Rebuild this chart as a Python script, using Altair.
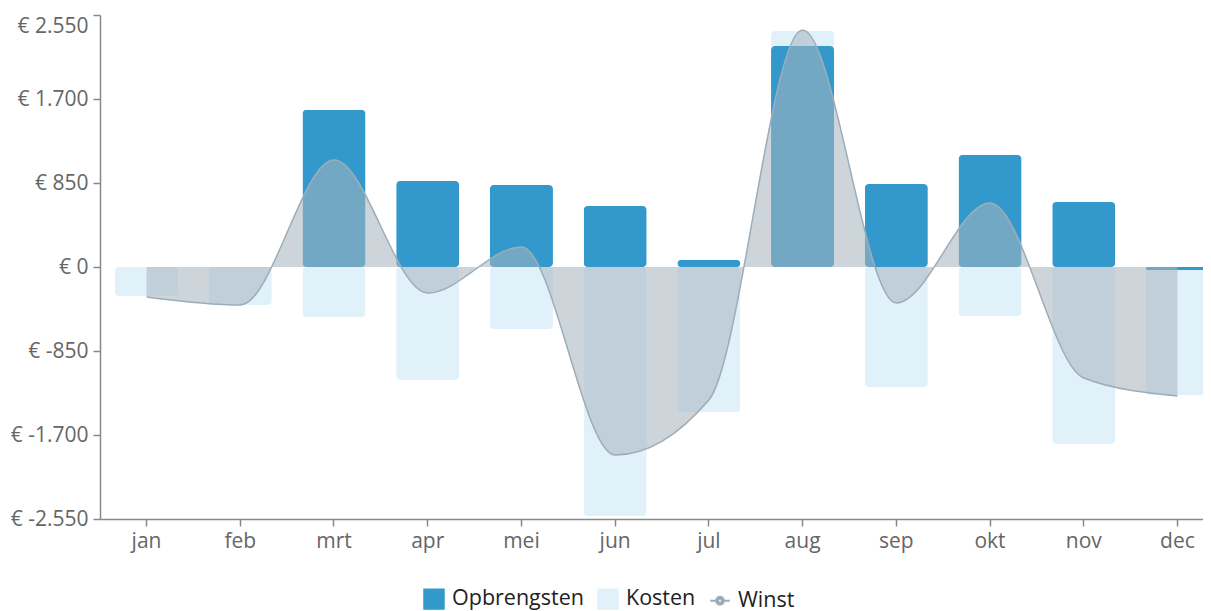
import altair as alt
import pandas as pd

months = ["jan", "feb", "mrt", "apr", "mei", "jun", "jul", "aug", "sep", "okt", "nov", "dec"]
opbrengsten = [0, 0, 1590, 870, 830, 617, 71, 2236, 840, 1133, 658, -30]
kosten = [-293, -385, -506, -1143, -627, -2520, -1467, 2388, -1214, -496, -1791, -1295]
winst = [-303, -385, 1083, -263, 202, -1903, -1346, 2398, -364, 648, -1123, -1305]
series_names = ["Opbrengsten", "Kosten", "Winst"]
series_colors = ["#3399cc", "#e1f1fa", "#9cadb9"]
y_ticks = [-2550, -1700, -850, 0, 850, 1700, 2550]

rows = []
for name, vals in zip(series_names, [opbrengsten, kosten, winst]):
    for m, v in zip(months, vals):
        rows.append({"maand": m, "reeks": name, "waarde": v})
df = pd.DataFrame(rows)

winst_path = (
    "M-1,0H-0.4M0.4,0H1"
    "M0.4,0A0.4,0.4,0,1,1,-0.4,0A0.4,0.4,0,1,1,0.4,0Z"
    "M0.2,0A0.2,0.2,0,1,0,-0.2,0A0.2,0.2,0,1,0,0.2,0Z"
)

color = alt.Color(
    "reeks:N",
    scale=alt.Scale(domain=series_names, range=series_colors),
    legend=alt.Legend(
        title=None,
        orient="none",
        legendX=323,
        legendY=573,
        direction="horizontal",
        labelFontSize=21.5,
        labelColor="#222222",
        labelFont="Open Sans",
        labelOffset=7,
        symbolSize=380,
        symbolStrokeWidth=2,
        columnPadding=10,
        symbolType=alt.ExprRef(
            "datum.value === 'Winst' ? '" + winst_path + "' : 'square'"
        ),
        symbolFillColor=alt.ExprRef(
            "datum.value === 'Winst' ? '#ffffff' : (datum.value === 'Kosten' ? '#e1f1fa' : '#3399cc')"
        ),
        symbolStrokeColor=alt.ExprRef(
            "datum.value === 'Winst' ? '#9cadb9' : 'transparent'"
        ),
    ),
)

x = alt.X(
    "maand:N",
    sort=months,
    scale=alt.Scale(range=[0, 1124], paddingInner=0.327, paddingOuter=0.16),
    axis=alt.Axis(title=None, labelAngle=0, labelPadding=4),
)
y = alt.Y(
    "waarde:Q",
    scale=alt.Scale(domain=[-2550, 2550], nice=False, zero=False),
    axis=alt.Axis(
        title=None,
        values=y_ticks,
        labelPadding=5,
        labelBaseline=alt.ExprRef("datum.value === 2550 ? 'top' : 'middle'"),
        labelExpr="'€ ' + (datum.value < 0 ? '-' : '') + replace(format(abs(datum.value), ',.0f'), ',', '.')",
    ),
)

base = alt.Chart(df)

kosten_bar = base.transform_filter("datum.reeks === 'Kosten'").mark_bar(
    cornerRadius=4
).encode(x=x, y=y, color=color)

opb_bar = base.transform_filter("datum.reeks === 'Opbrengsten'").mark_bar(
    cornerRadius=4
).encode(x=x, y=y, color=color)

area = base.transform_filter("datum.reeks === 'Winst'").mark_area(
    interpolate="monotone", color="#a5b4bf", fillOpacity=0.56
).encode(x=x, y=y)

line = base.transform_filter("datum.reeks === 'Winst'").mark_line(
    interpolate="monotone", strokeWidth=1.5
).encode(x=x, y=y, color=color)

chart = (
    alt.layer(kosten_bar, opb_bar, area, line)
    .properties(
        width=1103,
        height=504,
        autosize=alt.AutoSizeParams(type="none"),
        padding={"left": 92, "top": 7, "right": 0, "bottom": 96},
    )
    .configure_view(stroke=None)
    .configure_axis(
        grid=False,
        domainColor="#888888",
        tickColor="#888888",
        labelColor="#666666",
        labelFontSize=21,
        labelFont="Open Sans",
        tickSize=7,
        domainWidth=1.5,
        tickWidth=1.5,
    )
)

chart.save("out.html", embed_options={"renderer": "svg", "actions": False})
